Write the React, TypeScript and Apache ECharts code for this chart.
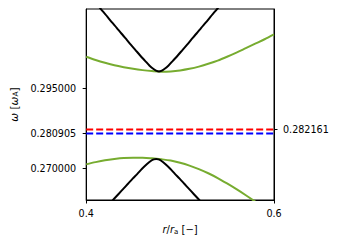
import React, { useEffect, useRef } from "react";
import * as echarts from "echarts";

const xRange = [0.4, 0.6];
const yRange = [0.26, 0.32];
const xTicks = [0.4, 0.6];
const leftTicks = [0.27, 0.280905, 0.295];
const rightTicks = [0.282161];

const upperBlack: [number, number][] = [
  [0.4075, 0.3229], [0.4125, 0.3211], [0.4175, 0.3193], [0.4225, 0.3176],
  [0.4275, 0.3158], [0.4325, 0.3141], [0.4375, 0.3123], [0.4425, 0.3106],
  [0.4475, 0.3088], [0.4525, 0.3071], [0.4575, 0.3054], [0.4625, 0.3038],
  [0.4675, 0.3022], [0.4725, 0.301], [0.475, 0.30055], [0.4775, 0.3004],
  [0.48, 0.30055], [0.4825, 0.301], [0.4875, 0.3022], [0.4925, 0.3038],
  [0.4975, 0.3054], [0.5025, 0.3071], [0.5075, 0.3088], [0.5125, 0.3106],
  [0.5175, 0.3123], [0.5225, 0.3141], [0.5275, 0.3158], [0.5325, 0.3176],
  [0.5375, 0.3193], [0.5425, 0.3211], [0.5475, 0.3229],
];
const upperGreen: [number, number][] = [
  [0.4, 0.305], [0.41, 0.304], [0.42, 0.3031], [0.43, 0.3023], [0.44, 0.3017],
  [0.45, 0.3012], [0.46, 0.3008], [0.47, 0.3005], [0.48, 0.3003], [0.49, 0.3004],
  [0.5, 0.3007], [0.51, 0.3012], [0.52, 0.3019], [0.53, 0.3028], [0.54, 0.3038],
  [0.55, 0.305], [0.56, 0.3063], [0.57, 0.3077], [0.58, 0.3091], [0.59, 0.3105],
  [0.6, 0.312],
];
const lowerGreen: [number, number][] = [
  [0.4, 0.2712], [0.41, 0.2719], [0.42, 0.2725], [0.43, 0.2729], [0.44, 0.2732],
  [0.45, 0.2733], [0.46, 0.2733], [0.47, 0.2731], [0.48, 0.2728], [0.49, 0.2724],
  [0.5, 0.2717], [0.51, 0.2708], [0.52, 0.2697], [0.53, 0.2684], [0.54, 0.2669],
  [0.55, 0.2652], [0.56, 0.2634], [0.57, 0.2615], [0.58, 0.2595], [0.59, 0.2574],
];
const lowerBlack: [number, number][] = [
  [0.4195, 0.2571], [0.4245, 0.2587], [0.4295, 0.2603], [0.4345, 0.2619],
  [0.4395, 0.2635], [0.4445, 0.2651], [0.4495, 0.2667], [0.4545, 0.2682],
  [0.4595, 0.2698], [0.4645, 0.2712], [0.4695, 0.2724], [0.472, 0.27275],
  [0.4745, 0.2729], [0.477, 0.27275], [0.4795, 0.2724], [0.4845, 0.2712],
  [0.4895, 0.2698], [0.4945, 0.2682], [0.4995, 0.2667], [0.5045, 0.2651],
  [0.5095, 0.2635], [0.5145, 0.2619], [0.5195, 0.2603], [0.5245, 0.2587],
  [0.5295, 0.2571],
];
const redLevel = 0.282161;
const blueLevel = 0.280905;

const FONT = "DejaVu Sans";

export default function App() {
  const ref = useRef<HTMLDivElement>(null);
  useEffect(() => {
    if (!ref.current) return;
    const chart = echarts.init(ref.current, undefined, { renderer: "svg" });
    const curve = (data: [number, number][], color: string) => ({
      type: "line",
      data,
      showSymbol: false,
      symbol: "none",
      smooth: 0.3,
      clip: true,
      lineStyle: { color, width: 2 },
      z: 3,
    });
    const level = (v: number, color: string) => ({
      type: "line",
      data: [[xRange[0], v], [xRange[1], v]],
      showSymbol: false,
      symbol: "none",
      lineStyle: { color, width: 2, type: [7, 3] },
      z: 2,
    });
    chart.setOption({
      animation: false,
      backgroundColor: "#fff",
      textStyle: { fontFamily: FONT },
      grid: {
        left: 82, right: 66, top: 9, bottom: 44,
        show: true, borderColor: "#000", borderWidth: 1, backgroundColor: "transparent",
      },
      xAxis: {
        type: "value", min: xRange[0], max: xRange[1],
        axisLine: { show: true, lineStyle: { color: "#000", width: 1 } },
        axisTick: { show: true, customValues: xTicks, length: 3.5, lineStyle: { color: "#000" } },
        axisLabel: { customValues: xTicks, color: "#000", fontSize: 9.6, fontFamily: FONT, margin: 8, formatter: (v: number) => v.toFixed(1) },
        splitLine: { show: false },
        name: "{i|r}/{i|r}{sub|a} [−]",
        nameLocation: "middle",
        nameGap: 24,
        nameTextStyle: {
          color: "#000", fontSize: 10, fontFamily: FONT,
          rich: {
            i: { fontStyle: "italic", fontSize: 10, fontFamily: FONT, color: "#000" },
            sub: { fontSize: 7, verticalAlign: "bottom", fontFamily: FONT, color: "#000", padding: [4, 0, 0, 0] },
          },
        },
      },
      yAxis: [
        {
          type: "value", min: yRange[0], max: yRange[1], position: "left",
          axisLine: { show: true, lineStyle: { color: "#000", width: 1 } },
          axisTick: { show: true, customValues: leftTicks, length: 3.5, lineStyle: { color: "#000" } },
          axisLabel: { customValues: leftTicks, color: "#000", fontSize: 9.6, fontFamily: FONT, margin: 10, formatter: (v: number) => v.toFixed(6) },
          splitLine: { show: false },
          name: "{i|ω} [{i|ω}{sub|A}]",
          nameLocation: "middle",
          nameRotate: 90,
          nameGap: 60,
          nameTextStyle: {
            color: "#000", fontSize: 10.5, fontFamily: FONT,
            rich: {
              i: { fontStyle: "italic", fontSize: 10.5, fontFamily: FONT, color: "#000" },
              sub: { fontSize: 7.5, fontFamily: FONT, color: "#000", padding: [4, 0, 0, 0] },
            },
          },
        },
        {
          type: "value", min: yRange[0], max: yRange[1], position: "right",
          axisLine: { show: true, lineStyle: { color: "#000", width: 1 } },
          axisTick: { show: true, customValues: rightTicks, length: 3.5, lineStyle: { color: "#000" } },
          axisLabel: { customValues: rightTicks, color: "#000", fontSize: 9.6, fontFamily: FONT, margin: 9, formatter: (v: number) => v.toFixed(6) },
          splitLine: { show: false },
        },
      ],
      series: [
        level(blueLevel, "#0000ff"),
        level(redLevel, "#ff0000"),
        curve(upperGreen, "#77ac30"),
        curve(lowerGreen, "#77ac30"),
        curve(upperBlack, "#000000"),
        curve(lowerBlack, "#000000"),
      ],
    });
    return () => chart.dispose();
  }, []);
  return (
    <div
      ref={ref}
      style={{ position: "absolute", left: 0, top: 0, width: 340, height: 244, background: "#fff" }}
    />
  );
}
